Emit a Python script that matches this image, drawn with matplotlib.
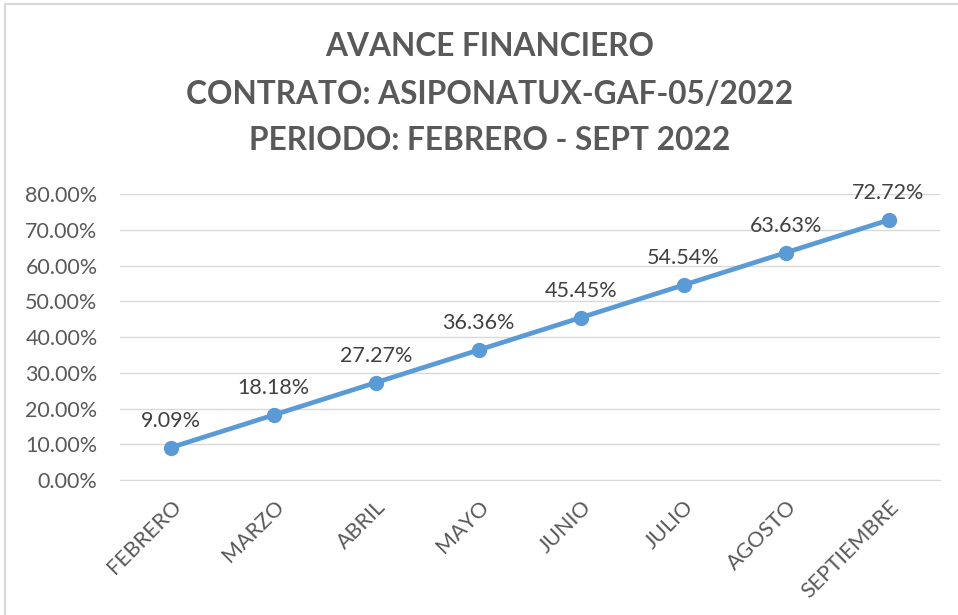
import matplotlib.pyplot as plt
import matplotlib.patches as patches
from matplotlib.ticker import PercentFormatter

months = ["FEBRERO", "MARZO", "ABRIL", "MAYO", "JUNIO", "JULIO", "AGOSTO", "SEPTIEMBRE"]
avance = [9.09, 18.18, 27.27, 36.36, 45.45, 54.54, 63.63, 72.72]
title_lines = ["AVANCE FINANCIERO", "CONTRATO: ASIPONATUX-GAF-05/2022", "PERIODO: FEBRERO - SEPT 2022"]

plt.rcParams["font.family"] = ["Lato", "DejaVu Sans"]
TXT = "#595959"

fig = plt.figure(figsize=(9.58, 6.15), dpi=100)
ax = fig.add_axes([0.125, 0.2195, 0.856, 0.465])

x = list(range(len(months)))
ax.plot(x, [v / 100 for v in avance], color="#5B9BD5", lw=3.4, marker="o", ms=10, zorder=3)
for xi, v in zip(x, avance):
    ax.annotate(f"{v:.2f}%", (xi, v / 100), xytext=(0, 12), textcoords="offset points",
                ha="center", va="bottom", fontsize=15.5, color="#404040")

ax.set_xlim(-0.5, len(months) - 0.5)
ax.set_ylim(0, 0.8)
ax.set_yticks([i / 10 for i in range(9)])
ax.yaxis.set_major_formatter(PercentFormatter(1.0, decimals=2))
ax.set_xticks(x)
ax.set_xticklabels(months, rotation=45, ha="right", rotation_mode="anchor")
ax.tick_params(axis="both", length=0, labelsize=15.5, labelcolor=TXT)
ax.tick_params(axis="x", pad=12)
ax.tick_params(axis="y", pad=16)
ax.grid(axis="y", color="#D9D9D9", lw=1)
ax.set_axisbelow(True)
for s in ["top", "right", "left"]:
    ax.spines[s].set_visible(False)
ax.spines["bottom"].set_color("#D9D9D9")

# title block, centred slightly right of the figure middle like the original
for i, line in enumerate(title_lines):
    fig.text(490 / 958, 1 - (47 + 47 * i) / 615, line, ha="center", va="center",
             fontsize=22.8, fontweight="bold", color=TXT)

fig.patches.append(patches.Rectangle((5 / 958, -0.1), 2, 1.1 - 4 / 615, transform=fig.transFigure,
                                     fill=False, ec="#D9D9D9", lw=1.5))

fig.savefig("out.png", dpi=100)
